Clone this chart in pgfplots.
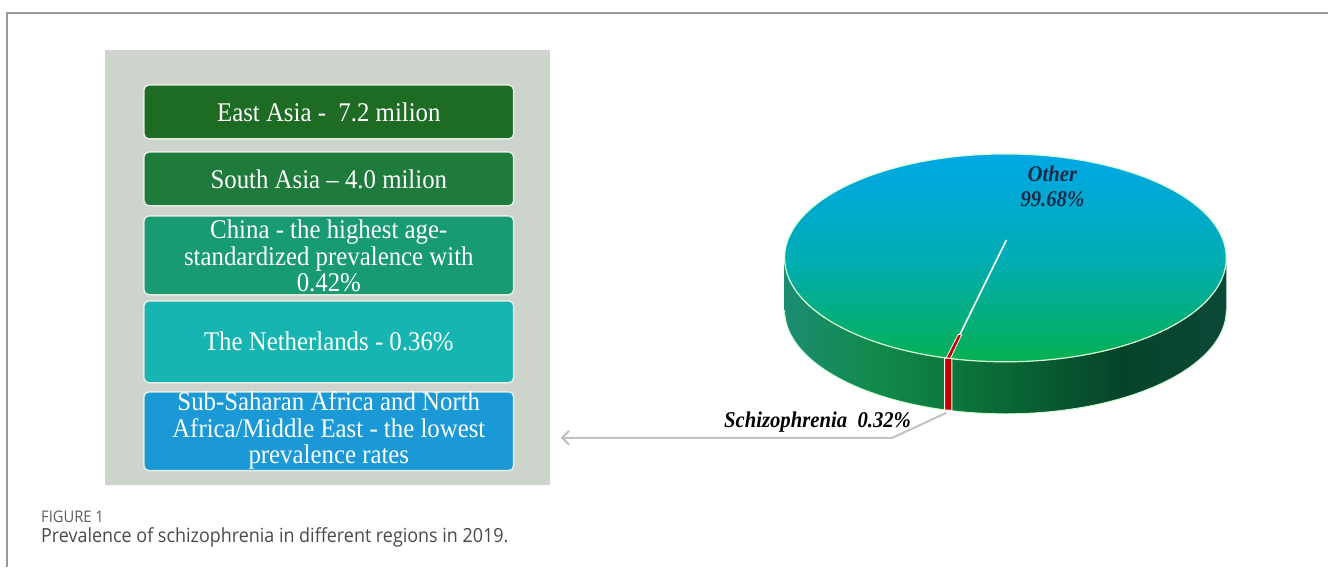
\documentclass[border=0pt]{standalone}
\usepackage{pgfplots}
\pgfplotsset{compat=1.18}
\usepackage{pgfplotstable}
\usepackage{fontspec}
\setmainfont{Liberation Serif}[FakeStretch=0.92]
\newfontfamily\capfont{Open Sans}[FakeStretch=0.92]
\usetikzlibrary{calc,arrows.meta}
\definecolor{frame}{HTML}{9A9A9A}
\definecolor{panel}{HTML}{CDD4CB}
\definecolor{boxedge}{HTML}{E4ECE4}
\definecolor{bA}{HTML}{1E6B24}
\definecolor{bB}{HTML}{1F7B3C}
\definecolor{bC}{HTML}{189A73}
\definecolor{bD}{HTML}{17B5B1}
\definecolor{bE}{HTML}{1A99D6}
\definecolor{topA}{HTML}{00A8E6}
\definecolor{topB}{HTML}{00ACB4}
\definecolor{topC}{HTML}{05B052}
\definecolor{sideA}{HTML}{1C8C72}
\definecolor{sideB}{HTML}{128A4C}
\definecolor{sideB2}{HTML}{0C7A3C}
\definecolor{sideC}{HTML}{05442A}
\definecolor{sideD}{HTML}{0B4838}
\definecolor{slicered}{HTML}{C00000}
\definecolor{labnavy}{HTML}{1B2A48}
\definecolor{leader}{HTML}{C2C2C2}
\definecolor{captxt}{HTML}{4A4A4A}
\pgfdeclarehorizontalshading{pieside}{100bp}{color(0bp)=(sideA); color(25bp)=(sideA); color(35bp)=(sideB); color(43bp)=(sideB2); color(63bp)=(sideC); color(75bp)=(sideD); color(100bp)=(sideD)}

\pgfplotstableread{
label value
Other 99.68
Schizophrenia 0.32
}\pietable
\pgfplotstablegetelem{1}{value}\of\pietable
\pgfmathsetmacro\halfang{\pgfplotsretval*3.6/2}
\pgfmathsetmacro\midang{255}
\pgfmathsetmacro\angA{\midang-\halfang}
\pgfmathsetmacro\angB{\midang+\halfang}

\begin{document}
\begin{tikzpicture}
\begin{axis}[hide axis, scale only axis, width=1329pt, height=567pt,
  xmin=0, xmax=1329, ymin=0, ymax=567, clip=false]
% background
\path[fill=white] (axis cs:0,0) rectangle (axis cs:1329,567);
% frame
\addplot[frame, line width=1.5pt] coordinates {(7,0) (7,554) (1329,554)};
% panel
\fill[panel] (axis cs:105,82) rectangle (axis cs:550,517);
% boxes
\tikzset{bx/.style={draw=boxedge, line width=1.5pt, rounded corners=5pt}}
\filldraw[bx, fill=bA] (axis cs:144,428) rectangle (axis cs:514,482);
\filldraw[bx, fill=bB] (axis cs:144,361) rectangle (axis cs:514,415);
\filldraw[bx, fill=bC] (axis cs:144,272) rectangle (axis cs:514,351);
\filldraw[bx, fill=bD] (axis cs:144,184) rectangle (axis cs:514,266);
\filldraw[bx, fill=bE] (axis cs:144,96) rectangle (axis cs:514,175);
\tikzset{bt/.style={text=white, align=center, inner sep=0pt, font=\fontsize{27}{26.5}\selectfont}}
\node[bt] at (axis cs:329,455) {East Asia -\ \ 7.2 milion};
\node[bt] at (axis cs:329,388) {South Asia -- 4.0 milion};
\node[bt] at (axis cs:329,311) {China - the highest age-\\standardized prevalence with\\0.42\%};
\node[bt] at (axis cs:329,225) {The Netherlands - 0.36\%};
\node[bt] at (axis cs:329,136) {Sub-Saharan Africa and North\\Africa/Middle East - the lowest\\prevalence rates};
% caption
\node[anchor=west, inner sep=0pt, text=captxt!90!white, font=\capfont\fontsize{16}{18}\selectfont] at (axis cs:41,50) {FIGURE 1};
\node[anchor=west, inner sep=0pt, text=captxt, font=\capfont\fontsize{19.5}{22}\selectfont] at (axis cs:41,29) {Prevalence of schizophrenia in different regions in 2019.};
% pie side
\shade[shading=pieside] (axis cs:785,309) -- (axis cs:785,257)
  arc[start angle=180, end angle=360, x radius=221pt, y radius=104pt]
  -- (axis cs:1227,309)
  arc[start angle=0, end angle=-180, x radius=221pt, y radius=104pt] -- cycle;
\draw[white!80!green, line width=0.8pt] (axis cs:785,257)
  arc[start angle=180, end angle=360, x radius=221pt, y radius=104pt];
% pie top
\shade[top color=topA, bottom color=topC, middle color=topB] (axis cs:1006,309) ellipse[x radius=221pt, y radius=104pt];
\draw[white!85!green, line width=1.2pt] (axis cs:1006,309) ellipse[x radius=221pt, y radius=104pt];
% schizophrenia slice
\coordinate (apex) at (axis cs:1007,327);
\coordinate (pA) at ($(axis cs:1006,309)+(\angA:221pt and 104pt)$);
\coordinate (pB) at ($(axis cs:1006,309)+(\angB:221pt and 104pt)$);
\coordinate (pM) at ($(axis cs:1006,309)+(\midang:221pt and 104pt)$);
\draw[white, line width=1.6pt] (apex) -- (pM);
\filldraw[fill=slicered, draw=white, line width=0.8pt] ($(apex)!0.8!(pA)$) -- (pA) -- (pB) -- ($(apex)!0.8!(pB)$) -- cycle;
\filldraw[fill=slicered, draw=white, line width=1pt] ($(pA)+(-1.5pt,0)$) -- ($(pA)+(-1.5pt,-52pt)$) -- ($(pB)+(1.5pt,-52pt)$) -- ($(pB)+(1.5pt,0)$) -- cycle;
% leader
\draw[leader, line width=2pt, -{Straight Barb[length=7pt, width=14pt]}] (axis cs:947,154) -- (axis cs:893,129) -- (axis cs:561,129);
% labels
\node[inner sep=0pt, font=\bfseries\itshape\fontsize{22.5}{24}\selectfont, text=black] at (axis cs:818,145) {Schizophrenia\ \ 0.32\%};
\node[inner sep=0pt, align=center, font=\bfseries\itshape\fontsize{22.5}{25}\selectfont, text=labnavy] at (axis cs:1053,381) {Other\\99.68\%};
\end{axis}
\end{tikzpicture}
\end{document}
